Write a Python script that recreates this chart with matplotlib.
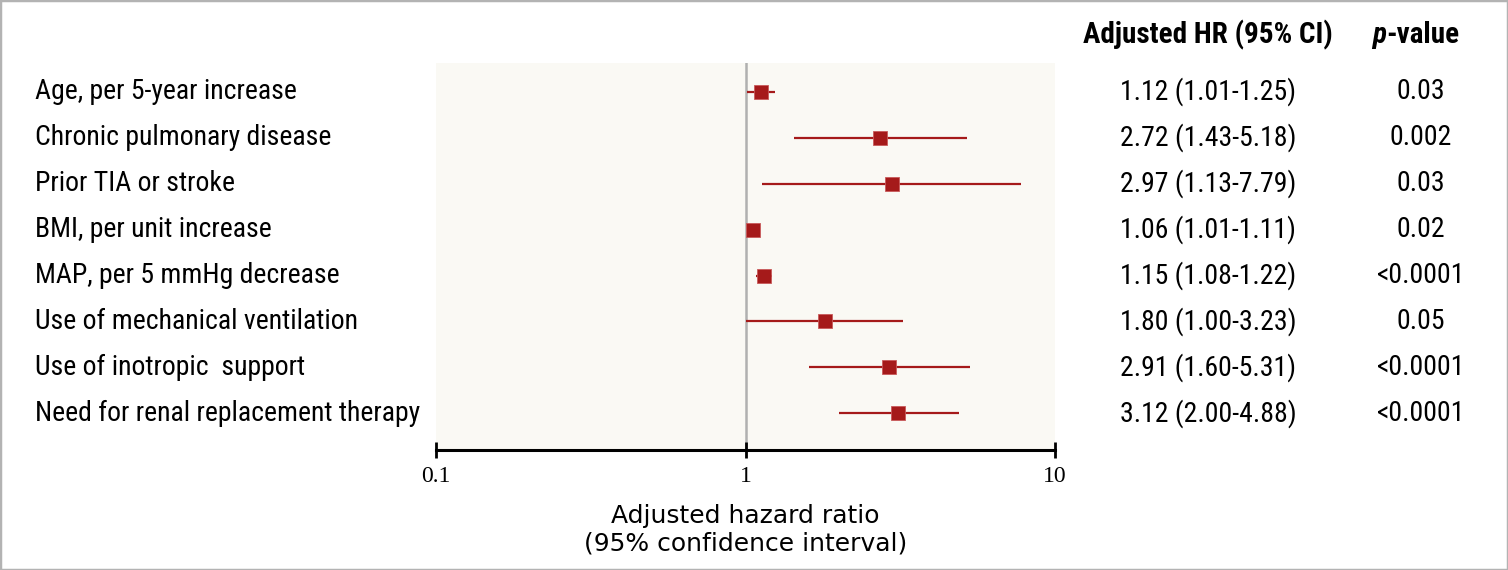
import matplotlib
matplotlib.use("Agg")
import matplotlib.pyplot as plt
import matplotlib.transforms as mtransforms
from matplotlib.patches import Rectangle

labels = [
    "Age, per 5-year increase",
    "Chronic pulmonary disease",
    "Prior TIA or stroke",
    "BMI, per unit increase",
    "MAP, per 5 mmHg decrease",
    "Use of mechanical ventilation",
    "Use of inotropic  support",
    "Need for renal replacement therapy",
]
hr = [1.12, 2.72, 2.97, 1.06, 1.15, 1.80, 2.91, 3.12]
ci_low = [1.01, 1.43, 1.13, 1.01, 1.08, 1.00, 1.60, 2.00]
ci_high = [1.25, 5.18, 7.79, 1.11, 1.22, 3.23, 5.31, 4.88]
p_values = ["0.03", "0.002", "0.03", "0.02", "<0.0001", "0.05", "<0.0001", "<0.0001"]
x_ticks = [0.1, 1, 10]
x_tick_labels = ["0.1", "1", "10"]

COND = ["Roboto Condensed", "DejaVu Sans"]
RED = "#a51a1a"

W, H = 1508, 570
fig = plt.figure(figsize=(W / 100, H / 100), dpi=100)
fig.patch.set_facecolor("white")
fig.patches.append(Rectangle((0, 0), 1, 1, transform=fig.transFigure, fill=False,
                             edgecolor="#b3b3b3", linewidth=2.5))

ax_l, ax_r, ax_t, ax_b = 436, 1055, 63, 450
ax = fig.add_axes([ax_l / W, 1 - ax_b / H, (ax_r - ax_l) / W, (ax_b - ax_t) / H])
ax.set_facecolor("#faf9f4")
ax.set_xscale("log")
ax.set_xlim(0.1, 10)
n = len(labels)
ax.set_ylim(n - 1 + 0.8, -0.63)

ax.axvline(1, color="#b0b0b0", lw=1.8, zorder=1)
ys = list(range(n))
for y, h, lo, hi in zip(ys, hr, ci_low, ci_high):
    ax.plot([lo, hi], [y, y], color=RED, lw=1.6, solid_capstyle="butt", zorder=2)
ax.plot(hr, ys, ls="none", marker="s", markersize=10, color=RED,
        markeredgecolor="#c85a5a", markeredgewidth=0.6, zorder=3)

for s in ["top", "right", "left"]:
    ax.spines[s].set_visible(False)
ax.spines["bottom"].set_linewidth(2.2)
ax.spines["bottom"].set_color("black")
ax.set_yticks([])
ax.set_xticks(x_ticks)
ax.set_xticklabels(x_tick_labels, fontfamily="Liberation Serif", fontsize=17)
ax.xaxis.set_minor_locator(matplotlib.ticker.NullLocator())
ax.tick_params(axis="x", direction="inout", length=11, width=2, pad=6)

ax.set_xlabel("Adjusted hazard ratio\n(95% confidence interval)", fontfamily="DejaVu Sans",
              fontsize=18, labelpad=12, linespacing=1.2)

tr = mtransforms.blended_transform_factory(fig.transFigure, ax.transData)
kw = dict(fontfamily=COND, fontsize=20, clip_on=False, transform=tr, va="center")
for y, lab, h, lo, hi, p in zip(ys, labels, hr, ci_low, ci_high, p_values):
    ax.text(35 / W, y, lab, ha="left", **kw)
    ax.text(1208 / W, y, f"{h:.2f} ({lo:.2f}-{hi:.2f})", ha="center", **kw)
    ax.text(1421 / W, y, p, ha="center", **kw)

hk = dict(fontfamily=COND, fontsize=21, fontweight="bold", va="center")
fig.text(1208 / W, 1 - 35 / H, "Adjusted HR (95% CI)", ha="center", **hk)
fig.text(1386 / W, 1 - 35 / H, "p", ha="right", fontstyle="italic", **hk)
fig.text(1386 / W, 1 - 35 / H, "-value", ha="left", **hk)

fig.savefig("out.png", dpi=100, facecolor="white")
